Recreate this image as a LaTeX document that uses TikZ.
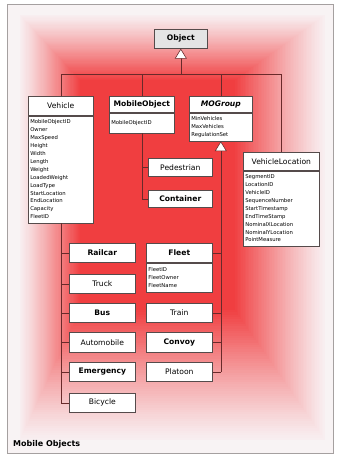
\documentclass[tikz,border=0pt]{standalone}
\usepackage{fontspec}
\setmainfont{DejaVu Sans}
\usetikzlibrary{arrows.meta}

\definecolor{corered}{RGB}{240,62,64}
\definecolor{palepink}{RGB}{248,238,240}
\definecolor{framebg}{RGB}{248,243,244}
\definecolor{framegray}{RGB}{165,160,160}
\definecolor{boxline}{RGB}{85,75,75}
\definecolor{connline}{RGB}{105,42,42}
\definecolor{objgray}{RGB}{228,228,228}

\tikzset{
  titlefont/.style={font=\fontsize{7.6}{9}\selectfont},
  box/.style={draw=boxline, fill=white, line width=0.6pt, inner sep=0pt,
              minimum width=66pt, minimum height=19pt, titlefont},
  hdr/.style={box, anchor=north west},
  attrs/.style={draw=boxline, fill=white, line width=0.6pt, anchor=north west,
                inner xsep=2pt, inner ysep=0pt, align=left,
                font=\fontsize{5.3}{7.9}\selectfont},
  conn/.style={draw=connline, line width=0.6pt},
  gen/.style={conn, -{Triangle[length=10pt, width=12pt, fill=white]}},
}

\begin{document}
\begin{tikzpicture}[x=1pt, y=-1pt]
  \useasboundingbox (0,0) rectangle (339,458);

  % frame and rectangular glow behind the diagram
  \filldraw[fill=framebg, draw=framegray, line width=0.8pt] (7,4) rectangle (333,453);
  \foreach \i in {0,...,56}{
    \pgfmathsetmacro\t{\i/56}
    \pgfmathsetmacro\pc{100*(\t^1.15)}
    \fill[corered!\pc!palepink] (20+60*\t, 15+65*\t) rectangle (325-90*\t, 440-130*\t);
  }
  \fill[corered] (80,80) rectangle (235,310);

  % root class
  \node[box, fill=objgray, font=\fontsize{7.6}{9}\selectfont\bfseries,
        minimum width=53pt, anchor=north west] (obj) at (154,29) {Object};

  % classes with attribute compartments
  \node[hdr, minimum width=65pt] (vehH) at (28,96) {Vehicle};
  \node[attrs, text width=61pt, minimum height=107pt] (vehA) at (vehH.south west)
    {MobileObjectID\\Owner\\MaxSpeed\\Height\\Width\\Length\\Weight\\LoadedWeight\\LoadType\\StartLocation\\EndLocation\\Capacity\\FleetID};

  \node[hdr, minimum width=65pt, minimum height=16pt, font=\fontsize{7.6}{9}\selectfont\bfseries] (moH) at (109,96) {MobileObject};
  \node[attrs, text width=61pt, minimum height=20pt] (moA) at (moH.south west) {MobileObjectID};

  \node[hdr, minimum width=63pt, minimum height=16pt, font=\fontsize{7.6}{9}\selectfont\bfseries\itshape] (mgH) at (189,96) {MOGroup};
  \node[attrs, text width=59pt, minimum height=28pt] (mgA) at (mgH.south west) {MinVehicles\\MaxVehicles\\RegulationSet};

  \node[hdr, minimum width=76pt, minimum height=18pt] (vlH) at (243,152) {VehicleLocation};
  \node[attrs, text width=72pt, minimum height=75pt] (vlA) at (vlH.south west)
    {SegmentID\\LocationID\\VehicleID\\SequenceNumber\\StartTimestamp\\EndTimeStamp\\NominalXLocation\\NominalYLocation\\PointMeasure};

  \node[hdr, font=\fontsize{7.6}{9}\selectfont\bfseries] (fltH) at (146,243) {Fleet};
  \node[attrs, text width=62pt, minimum height=29pt] (fltA) at (fltH.south west) {FleetID\\FleetOwner\\FleetName};

  % plain classes
  \node[hdr, minimum width=64pt, minimum height=18pt] (ped) at (148,158) {Pedestrian};
  \node[hdr, minimum width=64pt, minimum height=17pt, font=\fontsize{7.6}{9}\selectfont\bfseries] (con) at (148,190) {Container};

  \node[hdr, font=\fontsize{7.6}{9}\selectfont\bfseries] (rail) at (69,243) {Railcar};
  \node[hdr] (truck) at (69,274) {Truck};
  \node[hdr, font=\fontsize{7.6}{9}\selectfont\bfseries] (bus) at (69,303) {Bus};
  \node[hdr, minimum height=20pt] (auto) at (69,332) {Automobile};
  \node[hdr, font=\fontsize{7.6}{9}\selectfont\bfseries] (emer) at (69,362) {Emergency};
  \node[hdr] (bike) at (69,393) {Bicycle};

  \node[hdr] (train) at (146,303) {Train};
  \node[hdr, minimum height=20pt, font=\fontsize{7.6}{9}\selectfont\bfseries] (convoy) at (146,332) {Convoy};
  \node[hdr] (plat) at (146,362) {Platoon};

  % inheritance from Object
  \coordinate (hub) at (obj.south |- 0,74);
  \draw[conn] (vehH.north) |- (vlH.north |- hub) -- (vlH.north);
  \draw[conn] (moH.north) -- (moH.north |- hub);
  \draw[conn] (mgH.north) -- (mgH.north |- hub);
  \draw[gen] (hub) -- (obj.south);

  % Vehicle subclasses
  \draw[conn] (vehA.south) -- (vehA.south |- bike.west);
  \foreach \n in {rail,truck,bus,auto,emer,bike}
    \draw[conn] (\n.west) -- (\n.west -| vehA.south);

  % MobileObject subclasses
  \draw[conn] (moA.south) -- (moA.south |- con.west);
  \foreach \n in {ped,con}
    \draw[conn] (\n.west) -- (\n.west -| moA.south);

  % MOGroup subclasses
  \coordinate (mgbot) at (mgA.south |- plat.east);
  \draw[gen] (mgbot) -- (mgA.south);
  \foreach \n in {fltH,train,convoy,plat}
    \draw[conn] (\n.east) -- (\n.east -| mgA.south);

  % caption
  \node[anchor=west, inner sep=0pt, font=\fontsize{8}{10}\selectfont\bfseries] (cap) at (13,444) {Mobile Objects};
\end{tikzpicture}
\end{document}
